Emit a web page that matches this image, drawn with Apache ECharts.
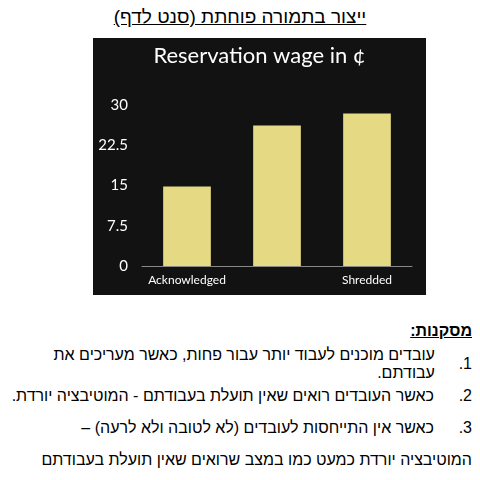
<!DOCTYPE html>
<html>
<head>
<meta charset="UTF-8">
<script src="https://cdn.jsdelivr.net/npm/echarts@6/dist/echarts.min.js"></script>
<style>
    body { margin: 0; width: 480px; height: 480px; background: #fff; position: relative; font-family: "Liberation Sans", Arial, sans-serif; overflow: hidden; }
    #top { position: absolute; top: 6px; left: 0; width: 480px; text-align: center; font-size: 19px; text-decoration: underline; direction: rtl; }
    #chart { position: absolute; left: 93px; top: 38px; width: 333px; height: 257px; background: #121212; }
    #notes { position: absolute; top: 322px; right: 8px; width: 470px; direction: rtl; font-size: 16px; }
    #notes .h { font-weight: bold; text-decoration: underline; margin-bottom: 8px; }
    #notes .row { display: flex; height: 32px; align-items: center; }
    #notes .n { width: 38px; }
</style>
</head>
<body>
<div id="top">ייצור בתמורה פוחתת (סנט לדף)</div>
<div id="chart"></div>
<div id="notes">
    <div class="h">מסקנות:</div>
    <div class="row"><span class="n">1.</span><span>עובדים מוכנים לעבוד יותר עבור פחות, כאשר מעריכים את עבודתם.</span></div>
    <div class="row"><span class="n">2.</span><span>כאשר העובדים רואים שאין תועלת בעבודתם - המוטיבציה יורדת.</span></div>
    <div class="row"><span class="n">3.</span><span>כאשר אין התייחסות לעובדים (לא לטובה ולא לרעה) –</span></div>
    <div class="row"><span>המוטיבציה יורדת כמעט כמו במצב שרואים שאין תועלת בעבודתם</span></div>
</div>
<script>
    var categories = ['Acknowledged', 'Ignored', 'Shredded'];
    var wages = [14.8, 26.2, 28.4];
    var ticks = [0, 7.5, 15, 22.5, 30];

    var myChart = echarts.init(document.getElementById('chart'));
    myChart.setOption({
        animation: false,
        title: {
            text: 'Reservation wage in ¢',
            left: 'center', top: 2,
            textStyle: { color: '#fff', fontSize: 22, fontWeight: 'normal', fontFamily: 'Lato' }
        },
        grid: { left: 49, right: 14, top: 67, bottom: 29 },
        xAxis: {
            type: 'category',
            data: categories,
            axisLine: { lineStyle: { color: '#888' } },
            axisTick: { show: false },
            axisLabel: { color: '#fff', fontSize: 12, fontFamily: 'Lato', margin: 8 }
        },
        yAxis: {
            type: 'value',
            min: ticks[0], max: ticks[ticks.length - 1], interval: 7.5,
            splitLine: { show: false },
            axisLabel: { color: '#fff', fontSize: 15, fontFamily: 'Lato', margin: 14 }
        },
        series: [{
            type: 'bar',
            data: wages,
            barWidth: '53%',
            itemStyle: { color: '#e6d983' }
        }]
    });
</script>
</body>
</html>
